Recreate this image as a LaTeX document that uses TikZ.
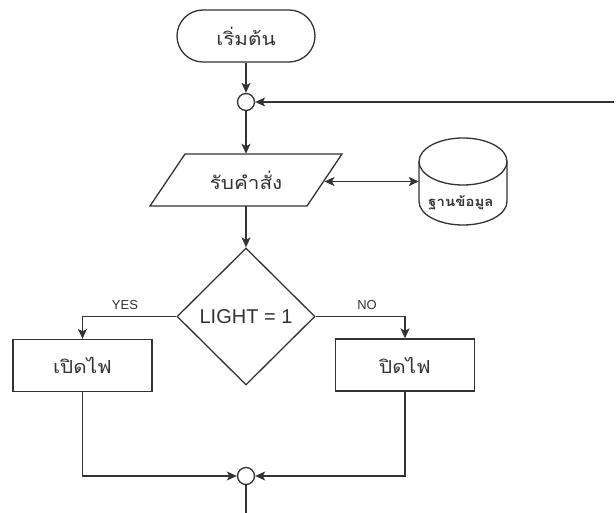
\documentclass[tikz,border=0pt]{standalone}
\usepackage{fontspec}
\setmainfont{Liberation Sans}
\newfontfamily\thaifont[Script=Thai,FakeStretch=1.15]{Loma}
\usetikzlibrary{shapes.geometric,arrows.meta}
\definecolor{ln}{HTML}{333333}
\begin{document}
\begin{tikzpicture}[x=1pt,y=-1pt,
  line/.style={draw=ln, line width=1.3pt},
  tip/.tip={Stealth[length=10pt,width=9pt,inset=2.5pt]},
  arr/.style={line, -tip},
  jn/.style={circle, draw=ln, line width=1.3pt, minimum size=17pt, inner sep=0pt, fill=white},
  box/.style={rectangle, draw=ln, line width=1.3pt, minimum width=139pt, minimum height=52pt, inner sep=0pt},
  th/.style={font=\thaifont\fontsize{18}{21}\selectfont, text=ln},
  lab/.style={font=\fontsize{13}{15}\selectfont, text=ln}]
\fill[white] (0,0) rectangle (616,513);
\useasboundingbox (0,0) rectangle (616,513);
% start
\node[th, draw=ln, line width=1.3pt, rounded corners=26pt, minimum width=138pt, minimum height=52pt, inner sep=0pt] (start) at (246,36) {เริ่มต้น};
% junction top
\node[jn] (j1) at (246,102) {};
\coordinate (rt) at (614,102);
% input parallelogram
\node[th, minimum width=157pt, minimum height=52pt, inner sep=0pt] (in) at (246,180) {รับคำสั่ง};
\draw[line] (185,154) -- (342,154) -- (307,206) -- (150,206) -- cycle;
\coordinate (inE) at (324.5,181.5);
% database cylinder
\node[minimum width=88pt, minimum height=87pt, inner sep=0pt] (db) at (463,181.5) {};
\draw[line, fill=white] (419,161.5) arc[start angle=180, end angle=0, x radius=44pt, y radius=23.5pt]
  -- (507,201.5) arc[start angle=0, end angle=-180, x radius=44pt, y radius=23.5pt] -- cycle;
\draw[line] (419,161.5) arc[start angle=180, end angle=360, x radius=44pt, y radius=23.5pt];
\node[font=\thaifont\bfseries\fontsize{13}{15}\selectfont, text=ln] (dbt) at (461,203) {ฐานข้อมูล};
% decision
\node[diamond, draw=ln, line width=1.3pt, minimum width=138pt, minimum height=137pt, inner sep=0pt, font=\fontsize{20}{23}\selectfont, text=ln] (dec) at (246,316.5) {LIGHT = 1};
% boxes
\node[box, th] (on) at (82.5,365.5) {เปิดไฟ};
\node[box, th] (off) at (405,365) {ปิดไฟ};
% junction bottom
\node[jn] (j2) at (246,476) {};
\coordinate (bot) at (246,513);
% labels
\node[lab] (yes) at (125,305) {YES};
\node[lab] (no) at (367,305) {NO};
% connectors
\draw[arr] (start) -- (j1);
\draw[arr] (rt) -- (j1);
\draw[arr] (j1) -- (in.north);
\draw[line, tip-tip] (inE) -- (inE -| db.west);
\draw[arr] (in.south) -- (dec);
\draw[arr] (dec.west) -| (on.north);
\draw[arr] (dec.east) -| (off.north);
\draw[arr] (on.south) |- (j2);
\draw[arr] (off.south) |- (j2);
\draw[line] (j2) -- (bot);
\end{tikzpicture}
\end{document}
